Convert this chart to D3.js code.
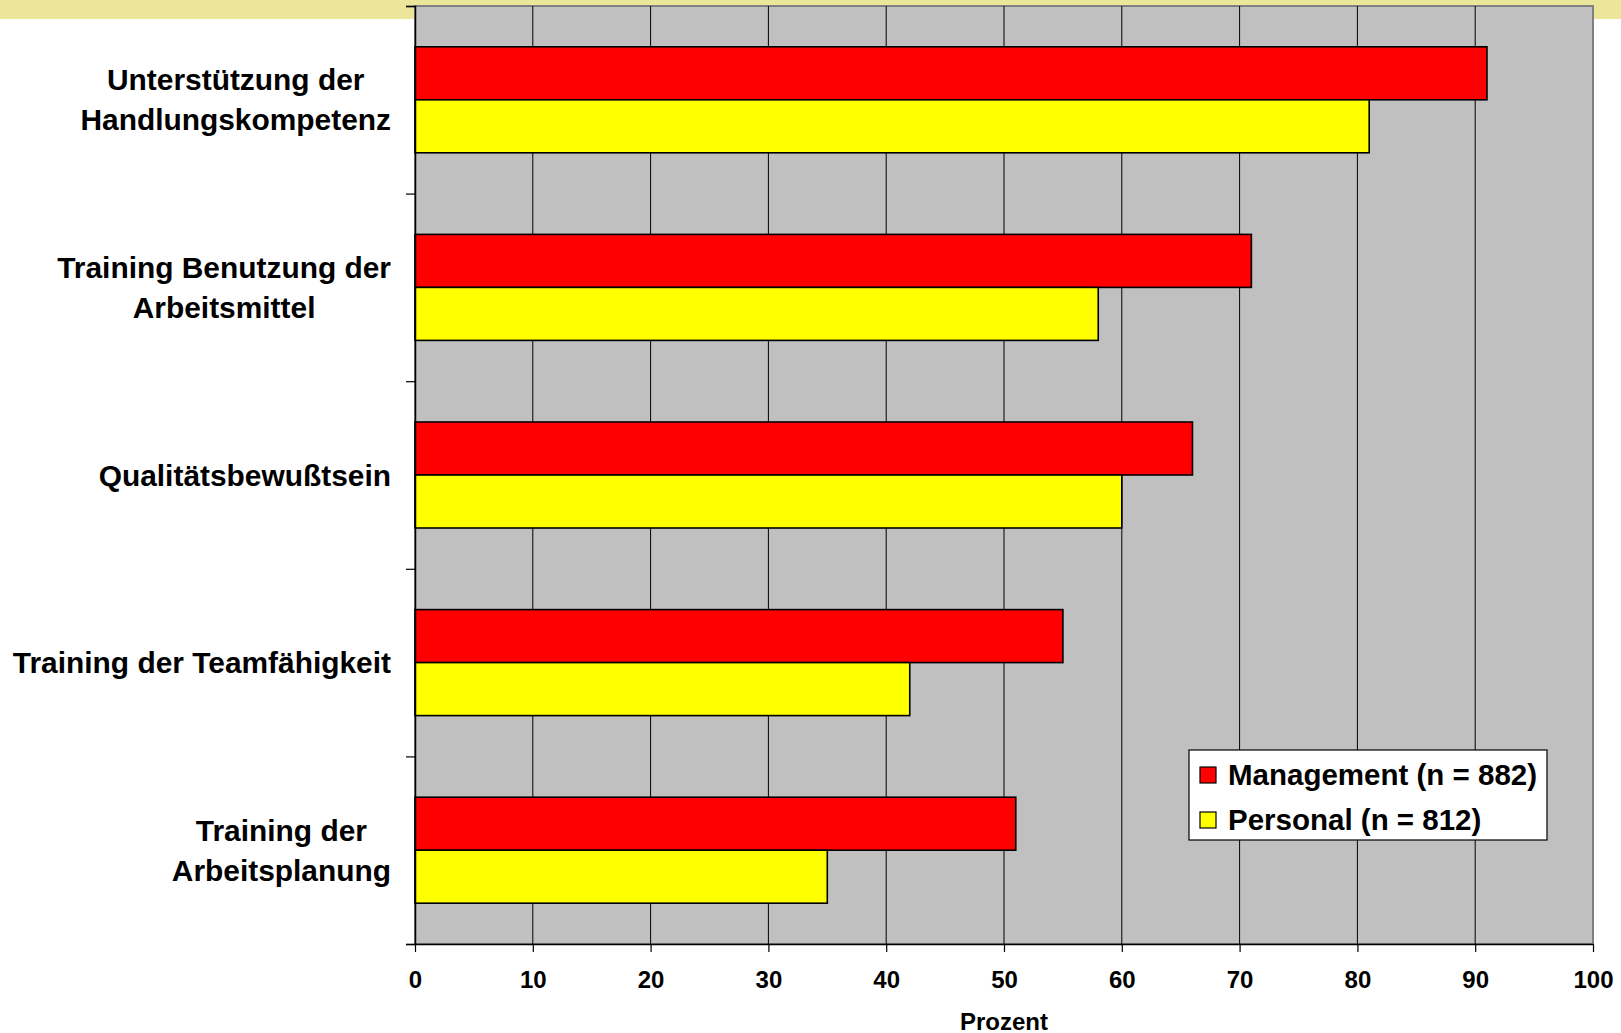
<!DOCTYPE html>
<html><head><meta charset="utf-8">
<script src="https://cdn.jsdelivr.net/npm/d3@7"></script>
<style>
html,body{margin:0;padding:0;background:#fff;}
svg{display:block;font-family:"Liberation Sans",Arial,sans-serif;font-weight:bold;}
</style></head>
<body>
<svg id="chart" width="1621" height="1033"></svg>
<script>
const categories = ["Unterstützung der Handlungskompetenz","Training Benutzung der Arbeitsmittel","Qualitätsbewußtsein","Training der Teamfähigkeit","Training der Arbeitsplanung"];
const categoryLines = [["Unterstützung der","Handlungskompetenz"],["Training Benutzung der","Arbeitsmittel"],["Qualitätsbewußtsein"],["Training der Teamfähigkeit"],["Training der","Arbeitsplanung"]];
const seriesNames = ["Management (n = 882)","Personal (n = 812)"];
const managementValues = [91,71,66,55,51];
const personalValues = [81,58,60,42,35];
const seriesColors = ["#FF0000","#FFFF00"];
const xTicks = [0,10,20,30,40,50,60,70,80,90,100];
const xTitle = "Prozent";

const svg = d3.select("#chart");
const W=1621,H=1033;
const L=415,R=1593,T=6,B=944;

// top band
svg.append("rect").attr("x",0).attr("y",0).attr("width",W).attr("height",19).attr("fill","#ECE69A");

const x = d3.scaleLinear().domain([0,100]).range([L,R]);
const y = d3.scaleBand().domain(categories).range([T,B]).padding(0);
const groupH = 106;
const ys = d3.scaleBand().domain(seriesNames).range([0,groupH]);

// plot background
svg.append("rect").attr("x",L).attr("y",T).attr("width",R-L).attr("height",B-T)
  .attr("fill","#C0C0C0").attr("stroke","#808080").attr("stroke-width",2);

// gridlines
svg.append("g").selectAll("line").data(xTicks.filter(d=>d>0&&d<100)).join("line")
  .attr("x1",d=>x(d)).attr("x2",d=>x(d)).attr("y1",T).attr("y2",B)
  .attr("stroke","#000").attr("stroke-width",1);

// bars
const data = categories.map((c,i)=>({c,vals:[managementValues[i],personalValues[i]]}));
const groups = svg.append("g").selectAll("g").data(data).join("g")
  .attr("transform",d=>`translate(0,${y(d.c)+(y.bandwidth()-groupH)/2})`);
groups.selectAll("rect").data(d=>d.vals.map((v,j)=>({v,s:seriesNames[j],j}))).join("rect")
  .attr("x",x(0)).attr("y",d=>ys(d.s)).attr("width",d=>x(d.v)-x(0)).attr("height",ys.bandwidth())
  .attr("fill",d=>seriesColors[d.j]).attr("stroke","#000").attr("stroke-width",1.6);

// x axis
const xAxis = svg.append("g").attr("transform",`translate(0,${B})`)
  .call(d3.axisBottom(x).tickValues(xTicks).tickSize(8).tickSizeOuter(0));
xAxis.select(".domain").attr("stroke","#000").attr("stroke-width",1.5);
xAxis.selectAll(".tick line").attr("stroke","#000").attr("stroke-width",1.2);
xAxis.selectAll(".tick text").attr("y",43.5).attr("dy",null).attr("dominant-baseline","auto")
  .attr("font-size",24).attr("font-weight","bold").attr("font-family","Liberation Sans, Arial, sans-serif").attr("fill","#000");

// y axis (boundaries)
const yb = d3.scaleLinear().domain([0,categories.length]).range([T,B]);
const yAxis = svg.append("g").attr("transform",`translate(${L},0)`)
  .call(d3.axisLeft(yb).ticks(categories.length).tickSize(9).tickFormat(""));
yAxis.select(".domain").attr("stroke","#000").attr("stroke-width",1.5);
yAxis.selectAll(".tick line").attr("stroke","#000").attr("stroke-width",1.2);

// category labels
const labelRight = 391, lineGap = 40.3, fs = 29.5, labelFs = 29.9;
categoryLines.forEach((lines,i)=>{
  const cy = y(categories[i]) + y.bandwidth()/2;
  const g = svg.append("g");
  const texts = lines.map((ln,k)=>g.append("text").text(ln)
    .attr("font-size",labelFs).attr("text-anchor","middle")
    .attr("y", cy + (k-(lines.length-1)/2)*lineGap + 10.5).attr("fill","#000"));
  const maxW = d3.max(texts,t=>t.node().getComputedTextLength());
  texts.forEach(t=>t.attr("x",labelRight-maxW/2));
});

// x title
svg.append("text").text(xTitle).attr("x",(L+R)/2).attr("y",1029.5).attr("text-anchor","middle")
  .attr("font-size",24).attr("fill","#000");

// legend
const lg = svg.append("g");
lg.append("rect").attr("x",1189).attr("y",750).attr("width",358).attr("height",90)
  .attr("fill","#fff").attr("stroke","#000").attr("stroke-width",1.2);
seriesNames.forEach((s,j)=>{
  const yy = 767 + j*45;
  lg.append("rect").attr("x",1200).attr("y",yy).attr("width",16).attr("height",16)
    .attr("fill",seriesColors[j]).attr("stroke","#000").attr("stroke-width",1.2);
  lg.append("text").text(s).attr("x",1228).attr("y",yy+18).attr("font-size",fs).attr("fill","#000");
});
</script>
</body></html>
